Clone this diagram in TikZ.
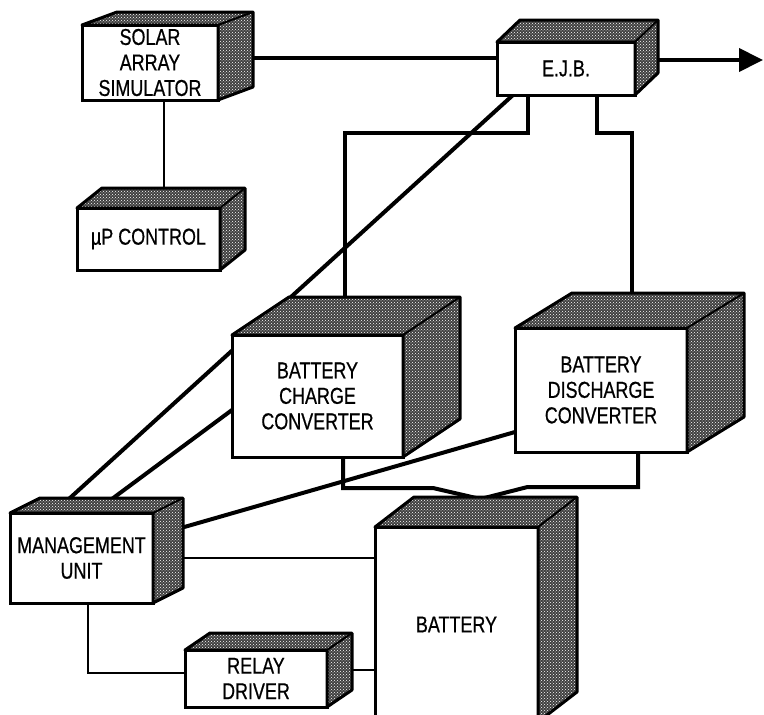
\documentclass[tikz,border=0pt]{standalone}
\usepackage{fontspec}
\newfontfamily\boxfont[FakeStretch=0.78, FakeBold=0.6]{Liberation Sans}
\usetikzlibrary{arrows.meta,patterns,backgrounds}

\tikzset{
  unit/.style={draw, line width=3pt, fill=white, inner sep=0pt, outer sep=0pt,
    align=center, font=\boxfont\fontsize{23}{25.5}\selectfont},
  face/.style={draw=black, line width=3pt, line join=round,
    preaction={fill=black!75}, pattern=crosshatch dots, pattern color=white},
  face edge/.style={line width=2pt},
  wire/.style={line width=4pt},
  thin wire/.style={line width=2pt}
}

% top and side of a unit, #2/#3 = depth offset
\newcommand\solidface[3]{%
  \draw[face] (#1.north west) -- ++(#2,#3) -- ([shift={(#2,#3)}]#1.north east)
    -- ([shift={(#2,#3)}]#1.south east) -- (#1.south east) -- (#1.north east) -- cycle;
  \draw[face edge] (#1.north east) -- ++(#2,#3);}

\begin{document}
\begin{tikzpicture}[x=1pt, y=-1pt]
    \useasboundingbox (0,0) rectangle (764,715);
    % units
    \node[unit, minimum width=136pt, minimum height=75pt] (sas) at (150,62.5) {SOLAR\\ARRAY\\SIMULATOR};
    \node[unit, minimum width=138pt, minimum height=53pt] (ejb) at (566,68.5) {E.J.B.};
    \node[unit, minimum width=143pt, minimum height=62pt] (mup) at (148.5,239) {µP CONTROL};
    \node[unit, minimum width=171pt, minimum height=122pt] (bcc) at (317.5,396) {BATTERY\\CHARGE\\CONVERTER};
    \node[unit, minimum width=172pt, minimum height=124pt] (bdc) at (601,390) {BATTERY\\DISCHARGE\\CONVERTER};
    \node[unit, minimum width=143pt, minimum height=90pt] (mu) at (81.5,558) {MANAGEMENT\\UNIT};
    \node[unit, minimum width=142pt, minimum height=57pt] (rd) at (256,678.5) {RELAY\\DRIVER};
    \node[unit, minimum width=163pt, minimum height=195pt] (bat) at (456.5,624.5) {BATTERY};
    \coordinate (out) at (763,60);

    \solidface{sas}{35}{-13}
    \solidface{ejb}{23}{-22}
    \solidface{mup}{25}{-20}
    \solidface{bcc}{57}{-38}
    \solidface{bdc}{57}{-35}
    \solidface{mu}{30}{-15}
    \solidface{rd}{25}{-17}
    \solidface{bat}{39}{-30}

    % connections
    \begin{scope}[on background layer]
    \draw[wire] ([yshift=4.5]sas.east) -- ([yshift=4.5]sas.east -| ejb.west);
    \draw[wire, -{Triangle[length=24pt, width=23pt]}] ([yshift=8.5]ejb.east) -- (out);
    \draw[thin wire] ([xshift=14]sas.south) -- ([xshift=14]sas.south |- mup.north);
    \draw[wire] ([xshift=-38]ejb.south) -- ++(0,38) -| ([xshift=27]bcc.north);
    \draw[wire] ([xshift=31]ejb.south) -- ++(0,38) -| ([xshift=31]bdc.north);
    \draw[wire] ([xshift=16]ejb.south west) -- ([xshift=43.5]mu.north west);
    \draw[wire] ([yshift=-14]bcc.west) -- ([xshift=83]mu.north west);
    \draw[wire] ([yshift=-42]bdc.west) -- ([yshift=22]mu.east);
    \draw[wire] ([xshift=25.5]bcc.south) -- ++(0,31) -- ++(90,0) -- ([shift={(24,-28)}]bat.north)
        -- ++(47,-12) -| ([xshift=37]bdc.south);
    \draw[thin wire] (mu.east) -- (mu.east -| bat.west);
    \draw[thin wire] ([xshift=6.5]mu.south) |- ([yshift=5.5]rd.west);
    \draw[thin wire] ([yshift=8.5]rd.east) -- ([yshift=8.5]rd.east -| bat.west);
    \end{scope}
\end{tikzpicture}
\end{document}
